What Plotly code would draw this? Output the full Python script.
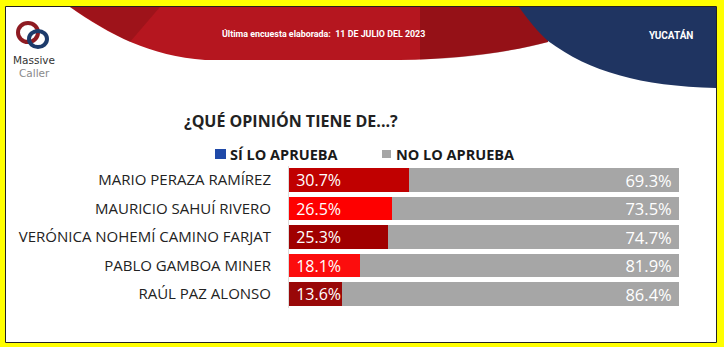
import plotly.graph_objects as go

# ---------------- data ----------------
candidates = ["MARIO PERAZA RAMÍREZ", "MAURICIO SAHUÍ RIVERO",
              "VERÓNICA NOHEMÍ CAMINO FARJAT", "PABLO GAMBOA MINER",
              "RAÚL PAZ ALONSO"]
si_aprueba = [30.7, 26.5, 25.3, 18.1, 13.6]
no_aprueba = [69.3, 73.5, 74.7, 81.9, 86.4]
series_names = ["SÍ LO APRUEBA", "NO LO APRUEBA"]
title_text = "¿QUÉ OPINIÓN TIENE DE...?"
header_text = "Última encuesta elaborada:  11 DE JULIO DEL 2023"
region_text = "YUCATÁN"

# ---------------- style ----------------
W, H = 724, 347
red_colors = ["#c00000", "#fe0000", "#a00000", "#fc0d0d", "#990808"]
gray = "#a6a6a6"
FONT = "Open Sans"


def fx(x):
    return x / W


def fy(y):
    return 1 - y / H


def path(points):
    s = ""
    for cmd, pts in points:
        s += cmd + " " + " ".join(f"{fx(x):.5f},{fy(y):.5f}" for x, y in pts) + " "
    return s + "Z"


fig = go.Figure()
fig.add_trace(go.Bar(
    y=candidates, x=si_aprueba, orientation="h", name=series_names[0],
    marker=dict(color=red_colors, line=dict(width=0)),
    texttemplate="\u00a0%{x:.1f}%", textposition="inside",
    insidetextanchor="start", constraintext="none", textangle=0,
    insidetextfont=dict(color="#ffffff", size=16, family=FONT),
    showlegend=False, hoverinfo="skip",
))
fig.add_trace(go.Bar(
    y=candidates, x=no_aprueba, orientation="h", name=series_names[1],
    marker=dict(color=gray, line=dict(width=0)),
    texttemplate="%{x:.1f}%\u00a0", textposition="inside",
    insidetextanchor="end", constraintext="none", textangle=0,
    insidetextfont=dict(color="#ffffff", size=16.5, family=FONT),
    showlegend=False, hoverinfo="skip",
))

shapes = []
shapes.append(dict(type="rect", xref="paper", yref="paper",
                   x0=fx(5.5), x1=fx(716.5), y0=fy(342.5), y1=fy(6.5),
                   fillcolor="#ffffff", line=dict(color="#222222", width=1),
                   layer="below"))
# red swoosh
shapes.append(dict(type="path", xref="paper", yref="paper", layer="below",
                   path=path([("M", [(70, 7)]),
                              ("C", [(110, 35), (150, 56), (205, 60)]),
                              ("L", [(400, 60)]),
                              ("C", [(460, 59), (510, 52), (548, 42)]),
                              ("L", [(548, 7)])]),
                   fillcolor="#b5161f", line=dict(width=0)))
shapes.append(dict(type="path", xref="paper", yref="paper", layer="below",
                   path=path([("M", [(420, 7)]),
                              ("L", [(420, 59.5)]),
                              ("C", [(470, 58), (515, 51), (548, 42)]),
                              ("L", [(548, 7)])]),
                   fillcolor="rgba(90,10,10,0.35)", line=dict(width=0)))
shapes.append(dict(type="path", xref="paper", yref="paper", layer="below",
                   path=path([("M", [(70, 7)]),
                              ("C", [(90, 20), (110, 32), (130, 42)]),
                              ("L", [(160, 7)])]),
                   fillcolor="rgba(90,10,10,0.25)", line=dict(width=0)))
# blue swoosh
shapes.append(dict(type="path", xref="paper", yref="paper", layer="below",
                   path=path([("M", [(519, 7)]),
                              ("C", [(528, 20), (538, 32), (548, 41)]),
                              ("C", [(590, 72), (640, 86), (716, 88)]),
                              ("L", [(716, 7)])]),
                   fillcolor="#1f3461", line=dict(width=0)))
# logo: two speech bubbles
shapes.append(dict(type="circle", xref="paper", yref="paper", layer="below",
                   x0=fx(18), x1=fx(38), y0=fy(42), y1=fy(23),
                   line=dict(color="#8e1b22", width=4), fillcolor="rgba(0,0,0,0)"))
shapes.append(dict(type="circle", xref="paper", yref="paper", layer="below",
                   x0=fx(29), x1=fx(47), y0=fy(47), y1=fy(31),
                   line=dict(color="#1d3b6b", width=4), fillcolor="rgba(0,0,0,0)"))
shapes.append(dict(type="path", xref="paper", yref="paper", layer="below",
                   path=path([("M", [(18, 37)]), ("L", [(16, 46), (24, 41)])]),
                   fillcolor="#8e1b22", line=dict(width=0)))
shapes.append(dict(type="path", xref="paper", yref="paper", layer="below",
                   path=path([("M", [(45, 43)]), ("L", [(49, 50), (40, 46)])]),
                   fillcolor="#1d3b6b", line=dict(width=0)))
# legend squares
shapes.append(dict(type="rect", xref="paper", yref="paper",
                   x0=fx(215), x1=fx(226), y0=fy(159), y1=fy(149),
                   fillcolor="#1f49a8", line=dict(width=0)))
shapes.append(dict(type="rect", xref="paper", yref="paper",
                   x0=fx(382), x1=fx(391), y0=fy(158), y1=fy(150),
                   fillcolor=gray, line=dict(width=0)))

annotations = [
    dict(text=title_text, x=fx(291), y=fy(121), xref="paper", yref="paper",
         showarrow=False, xanchor="center", yanchor="middle",
         font=dict(family=FONT, size=16, color="#222222", weight="bold")),
    dict(text=series_names[0], x=fx(228), y=fy(154), xref="paper", yref="paper",
         showarrow=False, xanchor="left", yanchor="middle",
         font=dict(family=FONT, size=14.5, color="#1a1a1a", weight="bold")),
    dict(text=series_names[1], x=fx(394), y=fy(154), xref="paper", yref="paper",
         showarrow=False, xanchor="left", yanchor="middle",
         font=dict(family=FONT, size=14.5, color="#1a1a1a", weight="bold")),
    dict(text=header_text, x=fx(220), y=fy(33), xref="paper", yref="paper",
         showarrow=False, xanchor="left", yanchor="middle",
         font=dict(family="Roboto", size=8.9, color="#ffffff", weight="bold")),
    dict(text=region_text, x=fx(695), y=fy(35), xref="paper", yref="paper",
         showarrow=False, xanchor="right", yanchor="middle",
         font=dict(family="Roboto", size=10, color="#ffffff", weight="bold")),
    dict(text="Massive", x=fx(34), y=fy(60), xref="paper", yref="paper",
         showarrow=False, xanchor="center", yanchor="middle",
         font=dict(family="DejaVu Sans", size=10.5, color="#333333")),
    dict(text="Caller", x=fx(34), y=fy(72.5), xref="paper", yref="paper",
         showarrow=False, xanchor="center", yanchor="middle",
         font=dict(family="DejaVu Sans", size=10.5, color="#8a8a8a")),
]

fig.update_layout(
    width=W, height=H,
    margin=dict(l=0, r=0, t=0, b=0),
    paper_bgcolor="#ffff00",
    plot_bgcolor="#ffffff",
    barmode="stack",
    bargap=0.19,
    showlegend=False,
    shapes=shapes,
    annotations=annotations,
    xaxis=dict(domain=[fx(289), fx(679)], range=[0, 100], visible=False,
               fixedrange=True),
    yaxis=dict(domain=[fy(308.25), fy(165.75)], autorange="reversed",
               showline=True, linecolor="#dcdcdc", linewidth=1,
               showgrid=False, zeroline=False, ticks="",
               ticklabelstandoff=14,
               tickfont=dict(family=FONT, size=15, color="#222222"),
               fixedrange=True),
)

fig.write_html("out.html")
